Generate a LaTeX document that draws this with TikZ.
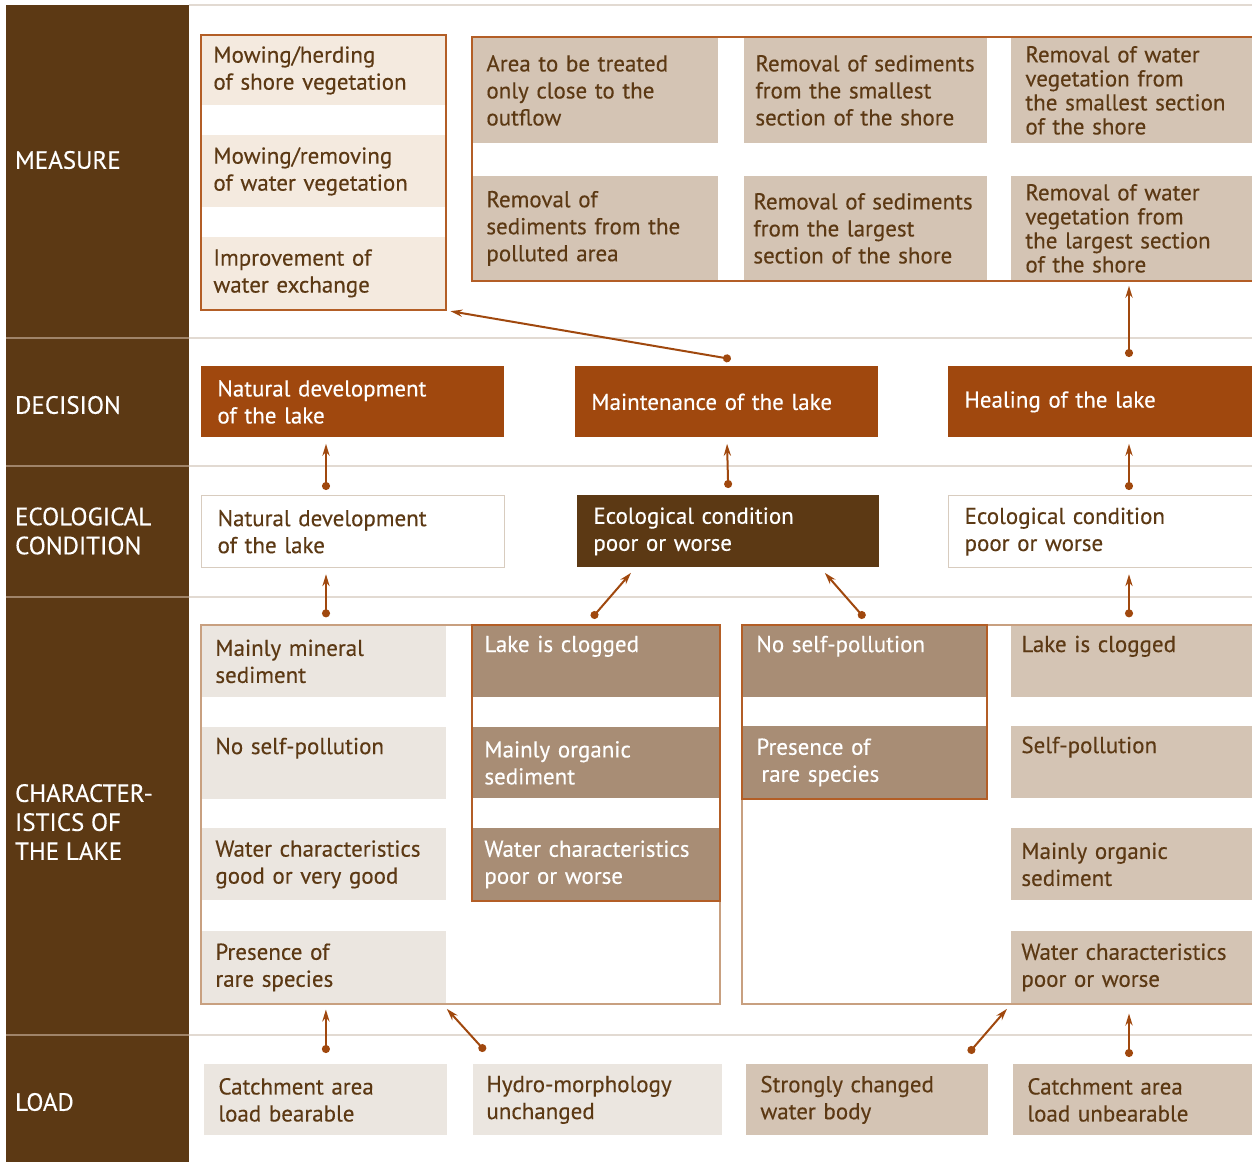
\documentclass[tikz,border=0pt]{standalone}
\usepackage{fontspec}
\setmainfont{PT Sans}[FakeBold=0.3]
\usetikzlibrary{arrows.meta, fit}

\definecolor{darkbrown}{HTML}{5C3914}
\definecolor{rust}{HTML}{A0480E}
\definecolor{rustline}{HTML}{B35E26}
\definecolor{taupe}{HTML}{A88D75}
\definecolor{sand}{HTML}{D4C4B4}
\definecolor{cream}{HTML}{F4EADF}
\definecolor{paper}{HTML}{EBE6E0}
\definecolor{rule}{HTML}{E2DAD2}
\definecolor{bandrule}{HTML}{A08469}
\definecolor{frameline}{HTML}{C8A080}
\definecolor{ecoline}{HTML}{D8CCBF}

\begin{document}
\begin{tikzpicture}[x=0.5pt, y=-0.5pt,
    cell/.style={rectangle, anchor=north west, inner xsep=7pt, inner ysep=0pt,
                 align=left, font=\fontsize{11.5}{13.5}\selectfont, text=darkbrown},
    creamcell/.style={cell, fill=cream},
    greycell/.style={cell, fill=paper},
    sandcell/.style={cell, fill=sand},
    taupecell/.style={cell, fill=taupe, text=white},
    decbox/.style={cell, fill=rust, text=white, inner xsep=8pt},
    ecobox/.style={cell, fill=white, draw=ecoline, line width=0.6pt, inner xsep=8pt},
    ecodark/.style={cell, fill=darkbrown, text=white, inner xsep=8pt},
    frame/.style={draw=frameline, line width=0.7pt, inner sep=0pt},
    rustframe/.style={draw=rustline, line width=0.7pt, inner sep=0pt},
    rowlabel/.style={anchor=west, text=white, align=left,
                     font=\fontsize{12.5}{14.5}\selectfont},
    link/.style={rust, line width=1pt, {Circle[length=4pt]}-{Stealth[length=6pt, width=3.6pt]}},
]
\useasboundingbox (0,0) rectangle (1252,1162);

% left band and row rules
\fill[darkbrown] (6,5) rectangle (189,1162);
\draw[rule, line width=1pt] (189,5) -- (1252,5);
\foreach \y in {338,466,597,1035} {
    \draw[rule, line width=1pt] (189,\y) -- (1252,\y);
    \draw[bandrule, line width=1pt] (6,\y) -- (189,\y);
}

% row labels
\node[rowlabel] (lmeas) at (8,160)  {MEASURE};
\node[rowlabel] (ldec)  at (8,405)  {DECISION};
\node[rowlabel] (leco)  at (8,531)  {ECOLOGICAL\\CONDITION};
\node[rowlabel] (lchar) at (8,822)  {CHARACTER-\\ISTICS OF\\THE LAKE};
\node[rowlabel] (lload) at (8,1102) {LOAD};

% measures
\node[creamcell, inner xsep=6pt, text width=110pt, minimum height=35pt] (mowshore) at (201,35)  {Mowing/herding\\of shore vegetation};
\node[creamcell, inner xsep=6pt, text width=110pt, minimum height=36pt] (mowwater) at (201,135) {Mowing/removing\\of water vegetation};
\node[creamcell, inner xsep=6pt, text width=110pt, minimum height=36pt] (watex)    at (201,237) {Improvement of\\water exchange};

\node[sandcell, text width=109pt, minimum height=53pt] (outflow) at (472,37) {Area to be treated\\only close to the\\outflow};
\node[sandcell, inner xsep=5.5pt, text width=110.5pt, minimum height=53pt] (sedsmall) at (744,37) {Removal of sediments\\from the smallest\\section of the shore};
\node[sandcell, text width=106.5pt, minimum height=53pt, font=\fontsize{11.5}{12}\selectfont] (vegsmall) at (1011,37) {Removal of water\\vegetation from\\the smallest section\\of the shore};
\node[sandcell, text width=109pt, minimum height=52pt] (sedpoll) at (472,176) {Removal of\\sediments from the\\polluted area};
\node[sandcell, inner xsep=4.5pt, text width=112.5pt, minimum height=52pt] (sedlarge) at (744,176) {Removal of sediments\\from the largest\\section of the shore};
\node[sandcell, text width=106.5pt, minimum height=52pt, font=\fontsize{11.5}{12}\selectfont] (veglarge) at (1011,176) {Removal of water\\vegetation from\\the largest section\\of the shore};

\node[rustframe, fit=(mowshore)(watex)] (mlbox) {};
\node[rustframe, fit=(outflow)(veglarge)] (mrbox) {};

% decisions
\node[decbox, text width=135.5pt, minimum height=35.5pt] (natdec)   at (201,366) {Natural development\\of the lake};
\node[decbox, text width=135.5pt, minimum height=35.5pt] (maintdec) at (575,366) {Maintenance of the lake};
\node[decbox, text width=136pt, minimum height=35.5pt]   (healdec)  at (948,366) {Healing of the lake};

% ecological condition
\node[ecobox, text width=135.5pt, minimum height=36pt] (nateco)  at (201,495) {Natural development\\of the lake};
\node[ecodark, text width=135pt, minimum height=36pt]  (pooreco) at (577,495) {Ecological condition\\poor or worse};
\node[ecobox, text width=136pt, minimum height=36pt]   (healeco) at (948,495) {Ecological condition\\poor or worse};

% characteristics
\node[greycell, text width=108.5pt, minimum height=36pt] (mineral) at (201,625) {Mainly mineral\\sediment};
\node[greycell, text width=108.5pt, minimum height=36pt] (noselfa) at (201,727) {No self-pollution\\\strut};
\node[greycell, text width=108.5pt, minimum height=36pt] (watgood) at (201,828) {Water characteristics\\good or very good};
\node[greycell, text width=108.5pt, minimum height=36pt] (rarea)   at (201,931) {Presence of\\rare species};

\node[taupecell, inner xsep=6pt, text width=111.5pt, minimum height=36pt] (clogb)   at (472,625) {Lake is clogged\\\strut};
\node[taupecell, inner xsep=6pt, text width=111.5pt, minimum height=35.5pt] (organb) at (472,727) {Mainly organic\\sediment};
\node[taupecell, inner xsep=6pt, text width=111.5pt, minimum height=36pt] (watpoorb) at (472,828) {Water characteristics\\poor or worse};

\node[taupecell, text width=108pt, minimum height=36pt] (noselfc) at (742,625) {No self-pollution\\\strut};
\node[taupecell, text width=108pt, minimum height=36pt] (rarec)   at (742,726) {Presence of\\\hspace*{2.5pt}rare species};

\node[sandcell, inner xsep=5pt, text width=110.5pt, minimum height=36pt] (clogd)    at (1011,625) {Lake is clogged\\\strut};
\node[sandcell, inner xsep=5pt, text width=110.5pt, minimum height=36pt] (selfpold) at (1011,726) {Self-pollution\\\strut};
\node[sandcell, inner xsep=5pt, text width=110.5pt, minimum height=36pt] (organd)   at (1011,828) {Mainly organic\\sediment};
\node[sandcell, inner xsep=5pt, text width=110.5pt, minimum height=36pt] (watpoord) at (1011,931) {Water characteristics\\poor or worse};

\node[frame, fit=(mineral)(rarea)(clogb)] (chara) {};
\node[frame, fit=(noselfc)(watpoord)] (charb) {};
\node[rustframe, fit=(clogb)(watpoorb)] (charbbox) {};
\node[rustframe, fit=(noselfc)(rarec)] (charcbox) {};

% loads
\node[greycell, text width=107.5pt, minimum height=35.5pt] (loadok)  at (204,1064)  {Catchment area\\load bearable};
\node[greycell, inner xsep=6.5pt, text width=111.5pt, minimum height=35.5pt] (hydro) at (473,1064) {Hydro-morphology\\unchanged};
\node[sandcell, text width=107pt, minimum height=35.5pt]   (changed) at (746,1064)  {Strongly changed\\water body};
\node[sandcell, text width=105.5pt, minimum height=35.5pt] (loadbad) at (1013,1064) {Catchment area\\load unbearable};

% arrows
\coordinate (colL) at (326,0);
\coordinate (colR) at (1129,0);
\coordinate (maintop) at ([xshift=2pt, yshift=3.5pt]maintdec.north);

\draw[link, shorten >=2pt] (maintop) -- (mlbox.south east);
\draw[link, shorten <=4.5pt, shorten >=2.5pt] (healdec.north -| colR) -- (veglarge.south -| colR);

\draw[link, shorten <=2.5pt, shorten >=3pt] (nateco.north -| colL) -- (natdec.south -| colL);
\draw[link, shorten <=3.5pt, shorten >=3pt] (pooreco.north) -- (maintdec.south);
\draw[link, shorten <=2.5pt, shorten >=3pt] (healeco.north -| colR) -- (healdec.south -| colR);

\draw[link, shorten <=3.5pt, shorten >=3pt] (chara.north -| colL) -- (nateco.south -| colL);
\draw[link] ([xshift=-2pt, yshift=3.5pt]clogb.north) -- ([xshift=27pt, yshift=-2.5pt]pooreco.south west);
\draw[link] ([yshift=3.5pt]noselfc.north) -- ([xshift=-27.5pt, yshift=-2.5pt]pooreco.south east);
\draw[link, shorten <=3.5pt, shorten >=3pt] (charb.north -| colR) -- (healeco.south -| colR);

\draw[link, shorten <=5.5pt, shorten >=2.5pt] (loadok.north) -- (loadok.north |- chara.south);
\draw[link] ([xshift=6pt, yshift=6.5pt]hydro.north west) -- ([yshift=-2.5pt]rarea.south east);
\draw[link] ([xshift=-10pt, yshift=5.5pt]changed.north east) -- ([xshift=-2pt, yshift=-2.5pt]watpoord.south west);
\draw[link, shorten <=3.5pt, shorten >=4.5pt] (loadbad.north -| colR) -- (charb.south -| colR);

\end{tikzpicture}
\end{document}
